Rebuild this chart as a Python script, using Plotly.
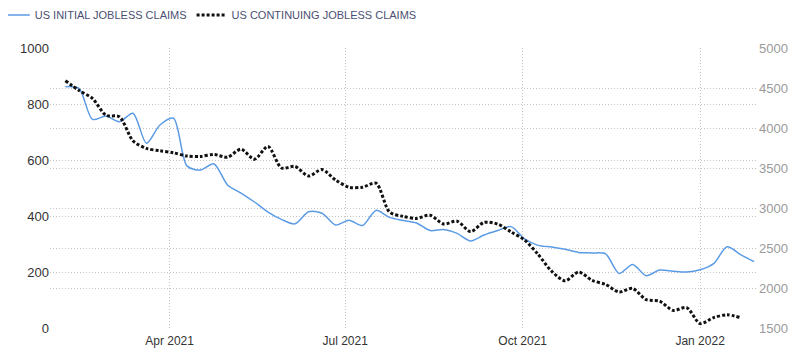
import pandas as pd
import plotly.graph_objects as go

initial_dates = pd.date_range("2021-02-06", periods=52, freq="7D")
initial_claims = [862, 856, 745, 757, 737, 767, 660, 725, 749, 579, 564, 586,
                  511, 482, 450, 414, 388, 372, 415, 410, 368, 385, 366, 420,
                  395, 384, 375, 348, 352, 338, 311, 332, 348, 362, 318, 295,
                  289, 281, 270, 268, 265, 195, 227, 187, 207, 203, 200, 208,
                  230, 290, 262, 237]

continuing_dates = pd.date_range("2021-02-06", periods=51, freq="7D")
continuing_claims = [4590, 4470, 4370, 4160, 4140, 3840, 3745, 3715, 3690, 3650,
                     3645, 3670, 3635, 3735, 3610, 3770, 3500, 3520, 3400, 3480,
                     3350, 3260, 3260, 3310, 2950, 2895, 2870, 2910, 2800, 2835,
                     2705, 2820, 2800, 2700, 2600, 2420, 2210, 2090, 2200, 2095,
                     2045, 1950, 1995, 1855, 1835, 1720, 1755, 1555, 1630, 1665,
                     1630]

x_tick_vals = ["2021-04-01", "2021-07-01", "2021-10-01", "2022-01-01"]
x_tick_text = ["Apr 2021", "Jul 2021", "Oct 2021", "Jan 2022"]
left_ticks = [0, 200, 400, 600, 800, 1000]
right_ticks = [1500, 2000, 2500, 3000, 3500, 4000, 4500, 5000]

fig = go.Figure()
fig.add_trace(go.Scatter(
    x=initial_dates, y=initial_claims, name="US INITIAL JOBLESS CLAIMS",
    mode="lines", line=dict(color="#5b9be6", width=1.5, shape="spline", smoothing=0.8),
    yaxis="y"))
fig.add_trace(go.Scatter(
    x=continuing_dates, y=continuing_claims, name="US CONTINUING JOBLESS CLAIMS",
    mode="lines", line=dict(color="#111111", width=3, dash="3px,2px", shape="spline", smoothing=0.8),
    yaxis="y2"))

grid = dict(showgrid=True, gridcolor="#c4c4c4", griddash="1px,2px", gridwidth=1)

fig.update_layout(
    width=792, height=349,
    margin=dict(l=42, r=42, t=40, b=29, autoexpand=False),
    paper_bgcolor="white", plot_bgcolor="white",
    font=dict(family="Liberation Sans, Arial, sans-serif", size=11, color="#333333"),
    showlegend=True,
    legend=dict(orientation="h", x=-0.078, y=1.118, xanchor="left", yanchor="middle",
                font=dict(family="Liberation Sans, Arial, sans-serif", size=11, color="#4b4f72"),
                itemwidth=30, bgcolor="rgba(0,0,0,0)"),
    xaxis=dict(range=["2021-01-29", "2022-01-31"], tickvals=x_tick_vals,
               ticktext=x_tick_text, showline=False, zeroline=False, automargin=False,
               ticks="", ticklabelstandoff=4,
               tickfont=dict(size=12, color="#333333"), **grid),
    yaxis=dict(range=[0, 1000], tickvals=left_ticks, zeroline=False, automargin=False,
               ticks="", tickfont=dict(size=13, color="#333333"), **grid),
    yaxis2=dict(range=[1500, 5000], tickvals=right_ticks, overlaying="y",
                side="right", zeroline=False, ticks="", automargin=False,
                tickfont=dict(size=13, color="#9a9a9a"), **grid),
)

fig.write_html("out.html")
